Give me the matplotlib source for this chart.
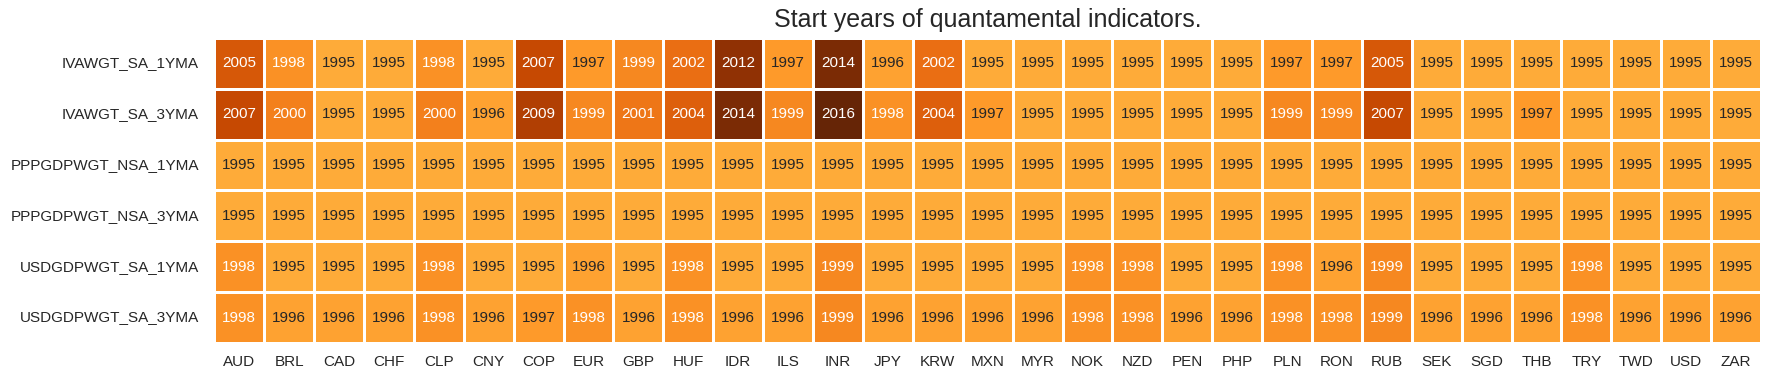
import pandas as pd
import seaborn as sns
import matplotlib.pyplot as plt

# Start years by indicator and currency
currencies = ["AUD", "BRL", "CAD", "CHF", "CLP", "CNY", "COP", "EUR", "GBP", "HUF",
              "IDR", "ILS", "INR", "JPY", "KRW", "MXN", "MYR", "NOK", "NZD", "PEN",
              "PHP", "PLN", "RON", "RUB", "SEK", "SGD", "THB", "TRY", "TWD", "USD", "ZAR"]
indicators = ["IVAWGT_SA_1YMA", "IVAWGT_SA_3YMA", "PPPGDPWGT_NSA_1YMA",
              "PPPGDPWGT_NSA_3YMA", "USDGDPWGT_SA_1YMA", "USDGDPWGT_SA_3YMA"]

ivawgt_1y = [2005, 1998, 1995, 1995, 1998, 1995, 2007, 1997, 1999, 2002,
             2012, 1997, 2014, 1996, 2002, 1995, 1995, 1995, 1995, 1995,
             1995, 1997, 1997, 2005, 1995, 1995, 1995, 1995, 1995, 1995, 1995]
ivawgt_3y = [2007, 2000, 1995, 1995, 2000, 1996, 2009, 1999, 2001, 2004,
             2014, 1999, 2016, 1998, 2004, 1997, 1995, 1995, 1995, 1995,
             1995, 1999, 1999, 2007, 1995, 1995, 1997, 1995, 1995, 1995, 1995]
pppgdp_1y = [1995] * 31
pppgdp_3y = [1995] * 31
usdgdp_1y = [1998, 1995, 1995, 1995, 1998, 1995, 1995, 1996, 1995, 1998,
             1995, 1995, 1999, 1995, 1995, 1995, 1995, 1998, 1998, 1995,
             1995, 1998, 1996, 1999, 1995, 1995, 1995, 1998, 1995, 1995, 1995]
usdgdp_3y = [1998, 1996, 1996, 1996, 1998, 1996, 1997, 1998, 1996, 1998,
             1996, 1996, 1999, 1996, 1996, 1996, 1996, 1998, 1998, 1996,
             1996, 1998, 1998, 1999, 1996, 1996, 1996, 1998, 1996, 1996, 1996]

df = pd.DataFrame([ivawgt_1y, ivawgt_3y, pppgdp_1y, pppgdp_3y, usdgdp_1y, usdgdp_3y],
                  index=indicators, columns=currencies)

sns.set_theme(style="white")
plt.rcParams['font.family'] = ['Liberation Sans', 'DejaVu Sans']

fig, ax = plt.subplots(figsize=(17.71, 3.81), dpi=100)
sns.heatmap(df, cmap="YlOrBr", center=1997, annot=True, fmt=".0f",
            linewidths=2, cbar=False, ax=ax, annot_kws={"size": 11})
ax.set_title("Start years of quantamental indicators.", fontsize=18, pad=8)
ax.set_xlabel("")
ax.set_ylabel("")
ax.tick_params(axis="y", length=0, labelsize=11, pad=11)
ax.tick_params(axis="x", length=0, labelsize=11, pad=9)
plt.yticks(rotation=0)
plt.xticks(rotation=0)
plt.subplots_adjust(left=0.121, right=0.9944, top=0.900, bottom=0.100)
plt.savefig("out.png")
